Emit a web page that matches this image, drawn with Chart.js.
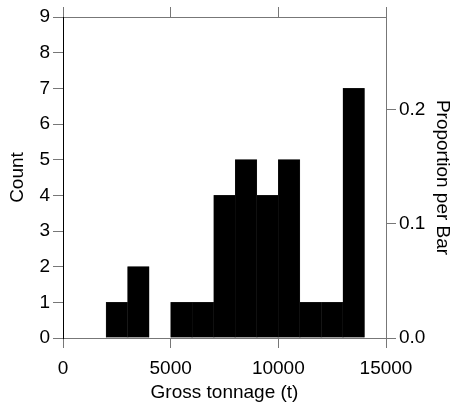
<!DOCTYPE html>
<html>
<head>
<meta charset="utf-8">
<style>
  html, body { margin: 0; padding: 0; background: #fff; }
  #wrap { width: 459px; height: 408px; }
</style>
<script src="https://cdn.jsdelivr.net/npm/chart.js@4/dist/chart.umd.min.js"></script>
</head>
<body>
<div id="wrap"><canvas id="c" width="459" height="408"></canvas></div>
<script>
// Histogram bins (gross tonnage, t) and counts per bin
const binCenters = [2500, 3500, 4500, 5500, 6500, 7500, 8500, 9500, 10500, 11500, 12500, 13500];
const counts     = [1, 2, 0, 1, 1, 4, 5, 4, 5, 1, 1, 7];
const xTicks = [0, 5000, 10000, 15000];
const countTicks = [0, 1, 2, 3, 4, 5, 6, 7, 8, 9];
const proportionTicks = [0.0, 0.1, 0.2];

const total = counts.reduce((a, b) => a + b, 0);
const countMax = 9;

const FONT = { family: "'Liberation Sans', Arial, Helvetica, sans-serif", size: 19 };
const GRAY = '#777';

function fixedWidth(w) { return function (s) { s.width = w; }; }
function fixedHeight(h) { return function (s) { s.height = h; }; }

new Chart(document.getElementById('c'), {
  type: 'bar',
  data: {
    datasets: [{
      data: binCenters.map((x, i) => ({ x: x, y: counts[i] })),
      backgroundColor: '#000',
      borderColor: '#222',
      borderWidth: 0.4,
      barPercentage: 1,
      categoryPercentage: 1,
      xAxisID: 'x',
      yAxisID: 'y'
    }]
  },
  options: {
    responsive: false,
    animation: false,
    events: [],
    layout: { padding: 0 },
    plugins: { legend: { display: false }, tooltip: { enabled: false } },
    scales: {
      x: {
        type: 'linear', position: 'bottom', min: 0, max: 15000, offset: false,
        afterBuildTicks: s => { s.ticks = xTicks.map(v => ({ value: v })); },
        afterFit: fixedHeight(70),
        grid: { drawOnChartArea: false, offset: false, color: GRAY, tickLength: 10 },
        border: { color: GRAY, width: 1 },
        ticks: { color: '#000', font: FONT, padding: 9, maxRotation: 0, callback: v => String(v) },
        title: { display: true, text: 'Gross tonnage (t)', color: '#000', font: FONT, padding: { top: 0, bottom: 4 } }
      },
      x2: {
        type: 'linear', position: 'top', axis: 'x', min: 0, max: 15000, offset: false,
        afterBuildTicks: s => { s.ticks = xTicks.map(v => ({ value: v })); },
        afterFit: fixedHeight(17),
        grid: { drawOnChartArea: false, offset: false, color: GRAY, tickLength: 10 },
        border: { color: GRAY, width: 1 },
        ticks: { display: false }
      },
      y: {
        type: 'linear', position: 'left', min: 0, max: countMax,
        afterBuildTicks: s => { s.ticks = countTicks.map(v => ({ value: v })); },
        afterFit: fixedWidth(63),
        grid: { drawOnChartArea: false, color: GRAY, tickLength: 10 },
        border: { color: '#000', width: 1 },
        ticks: { color: '#000', font: FONT, padding: 3 },
        title: { display: true, text: 'Count', color: '#000', font: FONT, padding: { top: 6, bottom: 0 } }
      },
      y2: {
        type: 'linear', position: 'right', min: 0, max: countMax / total,
        afterBuildTicks: s => { s.ticks = proportionTicks.map(v => ({ value: v })); },
        afterFit: fixedWidth(73),
        grid: { drawOnChartArea: false, color: GRAY, tickLength: 10 },
        border: { color: GRAY, width: 1 },
        ticks: { color: '#000', font: FONT, padding: 3, callback: v => Number(v).toFixed(1) },
        title: { display: true, text: 'Proportion per Bar', color: '#000', font: FONT, padding: { top: 5, bottom: 0 } }
      }
    }
  }
});
</script>
</body>
</html>
